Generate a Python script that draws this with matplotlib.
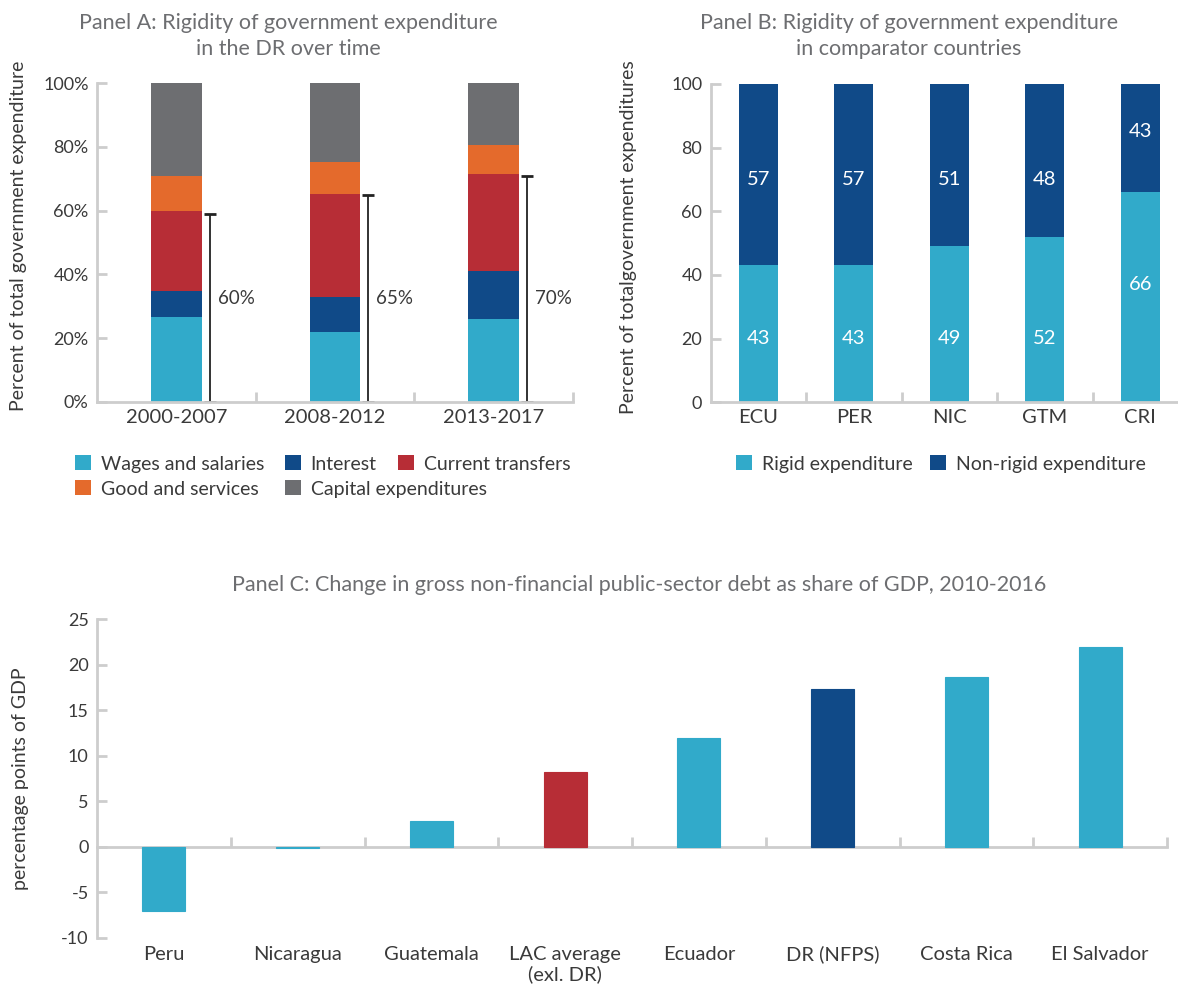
import matplotlib
matplotlib.use('Agg')
import matplotlib.pyplot as plt
import numpy as np

plt.rcParams['font.family'] = ['Lato', 'DejaVu Sans']
plt.rcParams['axes.unicode_minus'] = False

# colours
lightBlue = '#31aaca'
darkBlue = '#104a88'
red = '#b72d36'
orange = '#e46a2c'
grey = '#6d6e71'
axisGrey = '#cdcdcd'
textCol = '#3a3a3a'
titleCol = '#6d6e71'

# Panel A data
periods = ['2000-2007', '2008-2012', '2013-2017']
wages = [26.7, 21.9, 26.0]
interest = [8.2, 11.0, 15.0]
transfers = [25.0, 32.3, 30.5]
goods = [11.0, 10.1, 9.1]
capital = [29.1, 24.7, 19.4]
rigidTotal = [59, 65, 71]
rigidLabels = ['60%', '65%', '70%']

# Panel B data
countriesB = ['ECU', 'PER', 'NIC', 'GTM', 'CRI']
rigid = [43, 43, 49, 52, 66]
nonRigid = [57, 57, 51, 48, 43]
rigidLabelY = [20, 20, 20, 20, 37]
nonRigidLabelY = [70, 70, 70, 70, 85]

# Panel C data
countriesC = ['Peru', 'Nicaragua', 'Guatemala', 'LAC average\n(exl. DR)', 'Ecuador',
              'DR (NFPS)', 'Costa Rica', 'El Salvador']
debtChange = [-7.1, -0.2, 2.8, 8.2, 11.9, 17.3, 18.6, 21.9]
barColours = [lightBlue, lightBlue, lightBlue, red, lightBlue, darkBlue, lightBlue, lightBlue]

W, H = 1178, 986
fig = plt.figure(figsize=(W / 100, H / 100), dpi=100)
catSize = 14.5
legSize = 14


def style_axes(ax):
    for s in ['top', 'right']:
        ax.spines[s].set_visible(False)
    for s in ['left', 'bottom']:
        ax.spines[s].set_color(axisGrey)
        ax.spines[s].set_linewidth(2)
    ax.tick_params(axis='both', which='major', direction='in', color=axisGrey,
                   width=2, length=7, labelsize=13, labelcolor=textCol)
    ax.tick_params(axis='y', pad=6)


def put_legend(handle, label, xpx, ypx):
    leg = fig.legend([handle], [label], loc='center left', bbox_to_anchor=(xpx / W, 1 - ypx / H),
                     frameon=False, fontsize=legSize, labelcolor=textCol, borderpad=0,
                     borderaxespad=0, handlelength=0.82, handleheight=0.82, handletextpad=0.5)
    return leg


# ---------- Panel A ----------
axA = fig.add_axes([97 / W, 1 - 401.7 / H, 476 / W, 318.4 / H])
x = np.arange(len(periods))
bw = 0.32
bottom = np.zeros(len(periods))
series = [('Wages and salaries', wages, lightBlue), ('Interest', interest, darkBlue),
          ('Current transfers', transfers, red), ('Good and services', goods, orange),
          ('Capital expenditures', capital, grey)]
handles = {}
for name, vals, col in series:
    b = axA.bar(x, vals, bw, bottom=bottom, color=col, label=name)
    handles[name] = b
    bottom += np.array(vals)
errX = x + 0.21
axA.errorbar(errX, np.array(rigidTotal) / 2, yerr=np.array(rigidTotal) / 2, fmt='none',
             ecolor='#222222', elinewidth=1.3, capsize=4, capthick=2)
for i in range(len(periods)):
    axA.text(errX[i] + 0.05, 32.5, rigidLabels[i], fontsize=13.5, color=textCol, va='center')
axA.set_xlim(-0.5, 2.5)
axA.set_ylim(0, 100)
axA.set_yticks([0, 20, 40, 60, 80, 100])
axA.set_yticklabels(['0%', '20%', '40%', '60%', '80%', '100%'])
axA.set_xticks([0.5, 1.5, 2.5])
axA.set_xticklabels([])
axA.set_xticks(x, minor=True)
axA.set_xticklabels(periods, minor=True)
axA.tick_params(axis='x', which='minor', length=0, labelsize=catSize, labelcolor=textCol, pad=5)
style_axes(axA)
axA.set_ylabel('Percent of total government expenditure', fontsize=14, color=textCol)
axA.yaxis.set_label_coords(-0.148, 0.52)
put_legend(handles['Wages and salaries'], 'Wages and salaries', 75, 464)
put_legend(handles['Interest'], 'Interest', 285, 464)
put_legend(handles['Current transfers'], 'Current transfers', 398, 464)
put_legend(handles['Good and services'], 'Good and services', 75, 489)
put_legend(handles['Capital expenditures'], 'Capital expenditures', 285, 489)
fig.text(288 / W, 1 - 36 / H, 'Panel A: Rigidity of government expenditure\nin the DR over time',
         ha='center', va='center', fontsize=15.5, color=titleCol, linespacing=1.4)

# ---------- Panel B ----------
axB = fig.add_axes([710.6 / W, 1 - 402.3 / H, (W - 710.6) / W, 318.3 / H])
xb = np.arange(len(countriesB))
bwB = 0.41
rb = axB.bar(xb, rigid, bwB, color=lightBlue, label='Rigid expenditure')
nb = axB.bar(xb, nonRigid, bwB, bottom=rigid, color=darkBlue, label='Non-rigid expenditure')
for i in range(len(countriesB)):
    axB.text(xb[i], rigidLabelY[i], str(rigid[i]), ha='center', va='center', color='white', fontsize=14.5)
    axB.text(xb[i], nonRigidLabelY[i], str(nonRigid[i]), ha='center', va='center', color='white', fontsize=14.5)
axB.set_xlim(-0.5, (W - 710.6) / 95.5 - 0.5)
axB.set_ylim(0, 100)
axB.set_yticks([0, 20, 40, 60, 80, 100])
axB.set_xticks([0.5, 1.5, 2.5, 3.5])
axB.set_xticklabels([])
axB.set_xticks(xb, minor=True)
axB.set_xticklabels(countriesB, minor=True)
axB.tick_params(axis='x', which='minor', length=0, labelsize=catSize, labelcolor=textCol, pad=5)
style_axes(axB)
axB.set_ylabel('Percent of totalgovernment expenditures', fontsize=14, color=textCol)
axB.yaxis.set_label_coords(-0.158, 0.52)
put_legend(rb, 'Rigid expenditure', 736, 464)
put_legend(nb, 'Non-rigid expenditure', 930, 464)
fig.text(909 / W, 1 - 36 / H, 'Panel B: Rigidity of government expenditure\nin comparator countries',
         ha='center', va='center', fontsize=15.5, color=titleCol, linespacing=1.4)

# ---------- Panel C ----------
axC = fig.add_axes([97 / W, 1 - 937.7 / H, 1070 / W, 318.7 / H])
xc = np.arange(len(countriesC))
axC.bar(xc, debtChange, 0.32, color=barColours, edgecolor=barColours, linewidth=0.8, zorder=3)
axC.set_xlim(-0.5, len(countriesC) - 0.5)
axC.set_ylim(-10, 25)
axC.set_yticks(np.arange(-10, 30, 5))
axC.spines['bottom'].set_position(('data', 0))
axC.set_xticks(np.arange(0.5, len(countriesC), 1))
axC.set_xticklabels([])
style_axes(axC)
for i, lab in enumerate(countriesC):
    axC.text(xc[i], -0.025, lab, transform=axC.get_xaxis_transform(), ha='center', va='top',
             fontsize=catSize, color=textCol, linespacing=1.15)
axC.set_ylabel('percentage points of GDP', fontsize=14, color=textCol)
axC.yaxis.set_label_coords(-0.064, 0.5)
fig.text(639 / W, 1 - 585 / H,
         'Panel C: Change in gross non-financial public-sector debt as share of GDP, 2010-2016',
         ha='center', va='center', fontsize=15.5, color=titleCol)

fig.savefig('out.png', dpi=100)
